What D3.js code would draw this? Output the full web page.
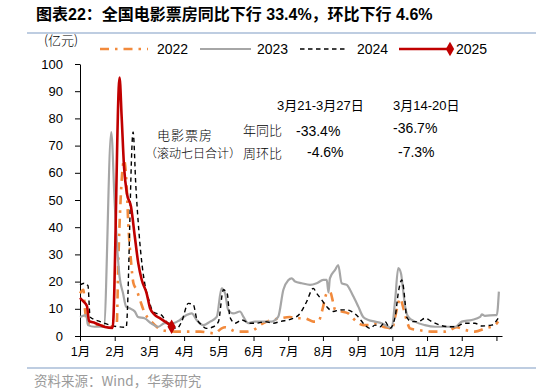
<!DOCTYPE html>
<html><head><meta charset="utf-8">
<script src="https://cdn.jsdelivr.net/npm/d3@7/dist/d3.min.js"></script>
<style>
body{margin:0;background:#fff;}
svg{display:block;font-family:"Liberation Sans",Arial,"Noto Sans CJK SC",sans-serif;}
</style></head>
<body><svg id="c" width="536" height="392"></svg>
<script>
// ---- data (x in months from Jan 1, values in 亿元, rolling 7-day box office) ----
const monthLabels = ["1月","2月","3月","4月","5月","6月","7月","8月","9月","10月","11月","12月"];
const yTicks = [0,10,20,30,40,50,60,70,80,90,100];
const seriesNames = ["2022","2023","2024","2025"];

const x2022 = [0,.10,.14,.23,.52,.86,1.06,1.10,1.17,1.23,1.27,1.35,1.39,1.46,1.54,1.63,1.73,1.87,2.02,2.16,2.35,2.74,3.12,3.46,3.89,4.08,4.18,4.52,4.80,5.0,5.19,5.38,5.57,5.76,6.05,6.20,6.48,6.72,6.87,6.97,7.11,7.20,7.30,7.35,7.54,7.73,7.83,7.97,8.16,8.36,8.55,8.74,8.93,8.98,9.08,9.17,9.22,9.32,9.41,9.51,9.75,10.13,10.52,10.66,10.86,11.1,11.38,11.67,11.96,12.05];
const y2022 = [15.7,17,10.2,4.7,4,3.4,4.7,25.5,50,62,64.7,53.7,41.4,29,19.4,17,13.2,8.3,5.9,4,2.2,1.6,1.6,1.6,1,2.8,3.2,1.6,1.6,2.2,4,5.3,6,6.5,7,6.5,6.5,5.3,5.3,9,15.7,16.3,12,9.6,9,8.3,7,5.3,4,4,4.7,3.4,2.8,2.2,7,12,13.8,10.2,5.9,2.8,2.2,1.6,1.6,2.2,3.2,2.2,1.6,2.8,4,5.3];

const x2023 = [0,.18,.23,.42,.61,.69,.90,1.0,1.07,1.14,1.24,1.33,1.43,1.58,1.67,1.86,2.05,2.25,2.44,2.69,2.88,3.07,3.22,3.36,3.55,3.75,3.94,4.08,4.18,4.27,4.42,4.61,4.71,4.85,5.04,5.28,5.52,5.71,5.86,6.0,6.10,6.20,6.39,6.63,6.82,7.01,7.11,7.16,7.20,7.35,7.44,7.54,7.69,7.78,7.88,8.02,8.16,8.31,8.50,8.69,8.88,8.98,9.08,9.17,9.25,9.32,9.37,9.46,9.65,9.94,10.23,10.52,10.81,11.0,11.29,11.53,11.58,11.67,11.96,12.01,12.07];
const y2023 = [7,7.7,4,3.4,3.4,3.5,75,48.8,32.8,21.8,15.7,10.8,10.2,9,7,6.5,4.7,3.4,4.7,4.7,5.9,7.7,8.3,5.9,4,5.3,7,17.5,15.7,9.6,8.3,9,7,4.7,5.3,5.3,5.3,7,17,20.5,21.2,20,19.4,18.8,19.4,20.6,20.6,16,21.2,24.3,26.1,19.4,18.8,17,14.5,10.8,7,5.9,5.3,4.7,3.4,2.8,13,25,23,15.7,10.8,7,5.3,4,3.4,3.4,3.4,5.3,5.9,7,8,7.4,7.7,7.7,16.3];

const x2024 = [0,.12,.23,.29,.58,.86,1.1,1.33,1.53,1.61,1.70,1.79,1.87,1.99,2.10,2.21,2.35,2.45,2.79,2.93,3.12,3.27,3.36,3.51,3.65,3.84,3.99,4.13,4.24,4.32,4.47,4.66,4.90,5.09,5.33,5.57,5.76,6.15,6.34,6.53,6.72,6.82,6.97,7.11,7.30,7.49,7.69,7.83,8.02,8.21,8.36,8.50,8.65,8.79,8.93,9.08,9.17,9.27,9.32,9.37,9.41,9.56,9.75,9.94,10.14,10.37,10.66,10.81,11.1,11.38,11.58,11.86,12.05];
const y2024 = [18.8,19.4,18.5,7,5.3,4,3.4,3.2,75,55,38,26,19,13,9,8.3,7.7,5.9,2.8,5.3,12,11.4,6.5,4,2.8,3.4,5.3,17,15.7,7,4.7,5.9,4.7,4.7,5.3,4.7,5.3,6.5,8.3,12.6,17.5,15.7,13.2,10.8,9,9.6,9.6,9,7,4,2.8,4,3.4,5.3,2.8,7,15.7,20.6,18,12,7,5.3,5.3,6.5,5.3,4,3.4,3.4,4.7,4.7,3.7,4,6.5];

const x2025 = [0,.09,.20,.26,.43,.58,.72,.94,1.14,1.20,1.27,1.35,1.47,1.58,1.68,1.78,1.92,2.02,2.16,2.31,2.45,2.59,2.64];
const y2025 = [14,12.8,11,5.5,4.8,4.0,3.3,3.0,95,80.6,62,52.5,47.5,36.5,26.7,20.6,15.7,10.2,7.7,6.5,5.3,4.0,3.4];

const titleText = "图表22：全国电影票房同比下行 33.4%，环比下行 4.6%";
const sourceText = "资料来源：Wind，华泰研究";

// ---- drawing ----
const svg = d3.select("#c");
const x = d3.scaleLinear().domain([0, 12.16]).range([80, 502]);
const y = d3.scaleLinear().domain([0, 100]).range([336, 64]);

// title & rules
svg.append("text").attr("x",36).attr("y",20).attr("font-size",16).attr("font-weight","bold")
  .attr("font-family","'Liberation Sans','Noto Sans CJK SC',sans-serif").text(titleText);
svg.append("line").attr("x1",27).attr("x2",536).attr("y1",33).attr("y2",33).attr("stroke","#7f9cc3").attr("stroke-width",1.2);
svg.append("line").attr("x1",27).attr("x2",536).attr("y1",368).attr("y2",368).attr("stroke","#7f9cc3").attr("stroke-width",1.2);
svg.append("text").attr("x",34).attr("y",386).attr("font-size",13.5).attr("fill","#9a9a9a")
  .attr("font-family","'Noto Sans CJK SC','Liberation Sans',sans-serif").text(sourceText);

// unit
svg.append("text").attr("x",44).attr("y",45).attr("font-size",13)
  .attr("font-family","'Noto Sans CJK SC',sans-serif").attr("font-weight",300).text("(亿元)");

// axes
const yAxis = d3.axisLeft(y).tickValues(yTicks).tickSize(5).tickSizeOuter(0).tickPadding(12);
const gy = svg.append("g").attr("transform","translate(80,0)").call(yAxis);
gy.selectAll("text").attr("font-size",13).attr("font-family","'Liberation Sans',Arial,sans-serif").attr("fill","#000");
gy.selectAll("line,path").attr("stroke","#000");

const xAxis = d3.axisBottom(x).tickValues(d3.range(0,13)).tickSize(5).tickSizeOuter(0).tickPadding(6)
  .tickFormat(i => i < 12 ? monthLabels[i] : "");
const gx = svg.append("g").attr("transform","translate(0,336)").call(xAxis);
gx.selectAll("text").attr("font-size",12.5).attr("font-family","'Liberation Sans','Noto Sans CJK SC',sans-serif").attr("fill","#000");
gx.selectAll("line,path").attr("stroke","#000");

// lines
const styles = {
  "2022": {c:"#f28a3c", w:2.6, dash:"9,6,2.5,6"},
  "2023": {c:"#a6a6a6", w:2.2, dash:null},
  "2024": {c:"#000000", w:1.4, dash:"4.5,3.5"},
  "2025": {c:"#c00000", w:2.6, dash:null}
};
const data = {
  "2022": x2022.map((m,i)=>[m,y2022[i]]),
  "2023": x2023.map((m,i)=>[m,y2023[i]]),
  "2024": x2024.map((m,i)=>[m,y2024[i]]),
  "2025": x2025.map((m,i)=>[m,y2025[i]])
};
const line = d3.line().x(d=>x(d[0])).y(d=>y(d[1])).curve(d3.curveMonotoneX);
seriesNames.forEach(n=>{
  const s = styles[n];
  svg.append("path").datum(data[n]).attr("d",line).attr("fill","none")
    .attr("stroke",s.c).attr("stroke-width",s.w).attr("stroke-dasharray",s.dash)
    .attr("stroke-linejoin","round");
});
// end marker for 2025
const last = data["2025"][data["2025"].length-1];
svg.append("path").attr("d",d3.symbol(d3.symbolDiamond,60)())
  .attr("transform",`translate(${x(last[0])},${y(last[1])})`).attr("fill","#c00000");

// legend
const legItems = [
  {n:"2022", x1:100, x2:148, tx:157},
  {n:"2023", x1:200, x2:251, tx:257},
  {n:"2024", x1:300, x2:347, tx:357},
  {n:"2025", x1:399, x2:450, tx:456}
];
legItems.forEach(l=>{
  const s = styles[l.n];
  svg.append("line").attr("x1",l.x1).attr("x2",l.x2).attr("y1",49).attr("y2",49)
    .attr("stroke",s.c).attr("stroke-width",s.w).attr("stroke-dasharray",s.dash);
  svg.append("text").attr("x",l.tx).attr("y",54).attr("font-size",14).text(l.n);
});
svg.append("path").attr("d",d3.symbol(d3.symbolDiamond,60)()).attr("transform","translate(450,49)").attr("fill","#c00000");

// annotation table
const cjk = "'Noto Sans CJK SC',sans-serif";
const ann = svg.append("g").attr("fill","#000");
ann.append("text").attr("x",277).attr("y",110).attr("font-size",13).attr("font-family","'Liberation Sans','Noto Sans CJK SC',sans-serif").text("3月21-3月27日");
ann.append("text").attr("x",393).attr("y",110).attr("font-size",13).attr("font-family","'Liberation Sans','Noto Sans CJK SC',sans-serif").text("3月14-20日");
ann.append("text").attr("x",157).attr("y",140).attr("font-size",13).attr("font-family",cjk).attr("font-weight",300).attr("letter-spacing",1).text("电影票房");
ann.append("text").attr("x",241).attr("y",158).attr("text-anchor","end").attr("font-size",12).attr("font-family",cjk).attr("font-weight",300).text("（滚动七日合计）");
ann.append("text").attr("x",243).attr("y",135).attr("font-size",13).attr("font-family",cjk).attr("font-weight",300).text("年同比");
ann.append("text").attr("x",243).attr("y",158).attr("font-size",13).attr("font-family",cjk).attr("font-weight",300).text("周环比");
ann.append("text").attr("x",296).attr("y",136).attr("font-size",14).text("-33.4%");
ann.append("text").attr("x",307).attr("y",157).attr("font-size",14).text("-4.6%");
ann.append("text").attr("x",393).attr("y",133).attr("font-size",14).text("-36.7%");
ann.append("text").attr("x",398).attr("y",157).attr("font-size",14).text("-7.3%");
</script>
</body></html>
